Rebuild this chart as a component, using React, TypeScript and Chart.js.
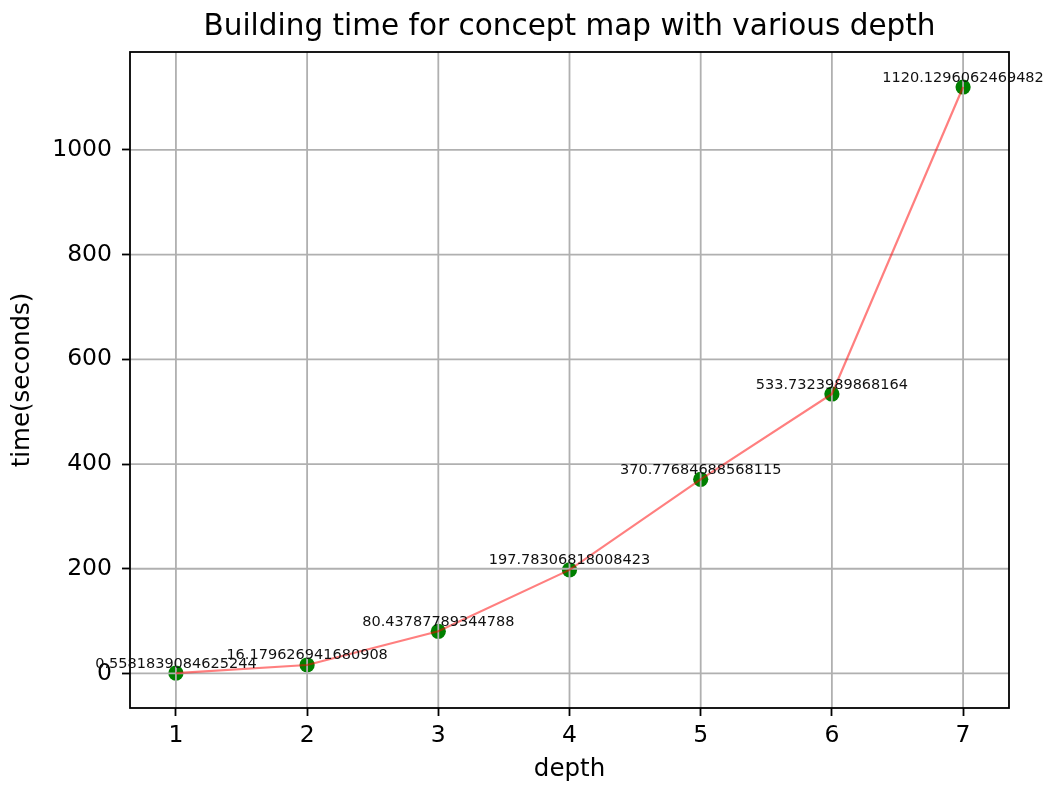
import React, { useEffect, useRef } from "react";
import { Chart, registerables } from "chart.js";

Chart.register(...registerables);

const depths = [1, 2, 3, 4, 5, 6, 7];
const times = [
  0.5581839084625244,
  16.179626941680908,
  80.43787789344788,
  197.78306818008423,
  370.77684688568115,
  533.7323989868164,
  1120.1296062469482,
];
const xTicks = [1, 2, 3, 4, 5, 6, 7];
const yTicks = [0, 200, 400, 600, 800, 1000];
const timeLabels = [
  "0.5581839084625244",
  "16.179626941680908",
  "80.43787789344788",
  "197.78306818008423",
  "370.77684688568115",
  "533.7323989868164",
  "1120.1296062469482",
];
const titleText = "Building time for concept map with various depth";
const xTitle = "depth";
const yTitle = "time(seconds)";

const FONT = "'DejaVu Sans', sans-serif";

export default function App() {
  const ref = useRef<HTMLCanvasElement | null>(null);

  useEffect(() => {
    if (!ref.current) return;
    const points = depths.map((d, i) => ({ x: d, y: times[i] }));

    const customPlugin = {
      id: "custom",
      afterDatasetDraw(chart: any, args: any) {
        if (args.index !== 1) return;
        const { ctx, chartArea } = chart;
        const xs = chart.scales.x;
        const ys = chart.scales.y;
        ctx.save();
        ctx.strokeStyle = "#b0b0b0";
        ctx.lineWidth = 1.8;
        xTicks.forEach((v) => {
          const px = xs.getPixelForValue(v);
          ctx.beginPath();
          ctx.moveTo(px, chartArea.top);
          ctx.lineTo(px, chartArea.bottom);
          ctx.stroke();
        });
        yTicks.forEach((v) => {
          const py = ys.getPixelForValue(v);
          ctx.beginPath();
          ctx.moveTo(chartArea.left, py);
          ctx.lineTo(chartArea.right, py);
          ctx.stroke();
        });
        ctx.restore();
      },
      afterDatasetsDraw(chart: any) {
        const { ctx, chartArea } = chart;
        const xs = chart.scales.x;
        const ys = chart.scales.y;
        ctx.save();
        ctx.strokeStyle = "#000";
        ctx.lineWidth = 1.8;
        ctx.strokeRect(
          chartArea.left,
          chartArea.top,
          chartArea.right - chartArea.left,
          chartArea.bottom - chartArea.top
        );
        ctx.fillStyle = "#111";
        ctx.font = `14.5px ${FONT}`;
        ctx.textAlign = "center";
        ctx.textBaseline = "alphabetic";
        depths.forEach((d, i) => {
          const px = xs.getPixelForValue(d);
          const py = ys.getPixelForValue(times[i]);
          ctx.fillText(timeLabels[i], px, py - 5.5);
        });
        ctx.fillStyle = "#000";
        ctx.font = `29.5px ${FONT}`;
        ctx.fillText(titleText, (chartArea.left + chartArea.right) / 2, 35);
        ctx.restore();
      },
    };

    const chart = new Chart(ref.current, {
      type: "scatter",
      data: {
        datasets: [
          {
            type: "line",
            data: points,
            borderColor: "rgba(255,0,0,0.5)",
            borderWidth: 2.2,
            pointRadius: 0,
            fill: false,
            tension: 0,
            order: 0,
          } as any,
          {
            type: "scatter",
            data: points,
            backgroundColor: "#008000",
            borderColor: "#008000",
            borderWidth: 0,
            pointRadius: 7.6,
            order: 1,
          } as any,
        ],
      },
      options: {
        responsive: false,
        animation: false,
        layout: { padding: { top: 52, right: 41, left: 0, bottom: 0 } },
        plugins: {
          legend: { display: false },
          tooltip: { enabled: false },
          title: { display: false },
        },
        scales: {
          x: {
            type: "linear",
            min: 0.65,
            max: 7.35,
            afterBuildTicks: (s: any) => {
              s.ticks = xTicks.map((v) => ({ value: v }));
            },
            afterFit: (s: any) => {
              s.height = 80;
            },
            grid: {
              color: "rgba(0,0,0,0)",
              tickColor: "#000",
              tickLength: 8,
              tickWidth: 1.8,
              drawOnChartArea: false,
            } as any,
            border: { display: false },
            ticks: {
              color: "#000",
              font: { family: FONT, size: 23.5 },
              padding: 6,
              maxRotation: 0,
              autoSkip: false,
              callback: (v: any) => String(v),
            },
            title: {
              display: true,
              text: xTitle,
              color: "#000",
              font: { family: FONT, size: 24.5 },
              padding: { top: 0, bottom: 4 },
            },
          },
          y: {
            type: "linear",
            min: -66,
            max: 1187,
            afterBuildTicks: (s: any) => {
              s.ticks = yTicks.map((v) => ({ value: v }));
            },
            afterFit: (s: any) => {
              s.width = 130;
            },
            grid: {
              color: "rgba(0,0,0,0)",
              tickColor: "#000",
              tickLength: 8,
              tickWidth: 1.8,
              drawOnChartArea: false,
            } as any,
            border: { display: false },
            ticks: {
              color: "#000",
              font: { family: FONT, size: 23.5 },
              padding: 10,
              autoSkip: false,
              callback: (v: any) => String(v),
            },
            title: {
              display: true,
              text: yTitle,
              color: "#000",
              font: { family: FONT, size: 24.5 },
              padding: { top: 8, bottom: 0 },
            },
          },
        },
      },
      plugins: [customPlugin],
    });
    return () => chart.destroy();
  }, []);

  return (
    <div style={{ position: "fixed", left: 0, top: 0, width: 1050, height: 788, background: "#fff" }}>
      <canvas ref={ref} width={1050} height={788} style={{ display: "block" }} />
    </div>
  );
}
